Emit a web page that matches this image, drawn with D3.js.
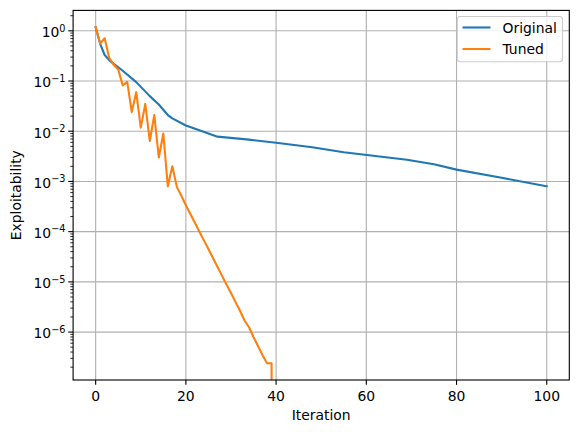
<!DOCTYPE html>
<html>
<head>
<meta charset="utf-8">
<script src="https://cdn.jsdelivr.net/npm/d3@7"></script>
<style>
  html, body { margin: 0; padding: 0; background: #fff; }
  svg { display: block; font-family: "DejaVu Sans", sans-serif; }
</style>
</head>
<body>
<svg id="chart" width="578" height="432"></svg>
<script>
// ---------- data ----------
const originalIter = [0, 1, 2, 3, 4, 6, 9, 12, 14, 16, 17, 20, 23, 27, 34, 40, 48, 55, 62, 69, 75, 80, 90, 100];
const originalVals = [1.18, 0.55, 0.33, 0.26, 0.22, 0.16, 0.095, 0.05, 0.034, 0.021, 0.018, 0.013, 0.0105, 0.0078,
                      0.0068, 0.0059, 0.0048, 0.0038, 0.0032, 0.0027, 0.0022, 0.00172, 0.00118, 0.0008];

const tunedIter = [0,1,2,3,4,5,6,7,8,9,10,11,12,13,14,15,16,17,18,19,20,21,22,23,24,25,26,27,28,29,30,31,32,33,34,35,36,37,38,39,40];
const tunedVals = [1.18, 0.56, 0.71, 0.29, 0.21, 0.17, 0.082, 0.096, 0.024, 0.06, 0.0118, 0.035, 0.0064, 0.021,
                   0.0030, 0.0090, 0.00080, 0.0020, 0.00078, 0.00052, 3.35e-4, 2.24e-4, 1.50e-4, 1.0e-4, 6.7e-5,
                   4.5e-5, 3.0e-5, 2.0e-5, 1.33e-5, 8.9e-6, 6.0e-6, 4.0e-6, 2.66e-6, 1.7e-6, 1.25e-6, 7.9e-7,
                   5.3e-7, 3.45e-7, 2.4e-7, 2.4e-7, 0];

const xTickVals = [0, 20, 40, 60, 80, 100];
const yTickExps = [-6, -5, -4, -3, -2, -1, 0];
const seriesNames = ["Original", "Tuned"];
const seriesColors = ["#1f77b4", "#ff7f0e"];
const xLabel = "Iteration";
const yLabel = "Exploitability";

// ---------- layout ----------
const svg = d3.select("#chart");
const L = 73.1, T = 10.4, W = 496.2, H = 369.6;
const FS = 13.9;
const PT = 100 / 72;

const x = d3.scaleLinear().domain([-5, 105]).range([L, L + W]);

// log domain with 5% margins (in log space) around positive data
const allPos = originalVals.concat(tunedVals).filter(v => v > 0);
const lmin = Math.log10(d3.min(allPos)), lmax = Math.log10(d3.max(allPos));
const pad = 0.05 * (lmax - lmin);
const y = d3.scaleLog().domain([Math.pow(10, lmin - pad), Math.pow(10, lmax + pad)]).range([T + H, T]);
const yPix = v => v > 0 ? y(v) : T + H + 5000;

// clip
svg.append("defs").append("clipPath").attr("id", "clip")
  .append("rect").attr("x", L).attr("y", T).attr("width", W).attr("height", H);

// grid
const g = svg.append("g");
xTickVals.forEach(v => {
  g.append("line").attr("x1", x(v)).attr("x2", x(v)).attr("y1", T).attr("y2", T + H)
    .attr("stroke", "#b0b0b0").attr("stroke-width", 0.8 * PT);
});
yTickExps.forEach(e => {
  const yy = y(Math.pow(10, e));
  g.append("line").attr("x1", L).attr("x2", L + W).attr("y1", yy).attr("y2", yy)
    .attr("stroke", "#b0b0b0").attr("stroke-width", 0.8 * PT);
});

// lines
const lineGen = d3.line().x(d => x(d[0])).y(d => yPix(d[1]));
const series = [
  originalIter.map((it, i) => [it, originalVals[i]]),
  tunedIter.map((it, i) => [it, tunedVals[i]])
];
series.forEach((s, i) => {
  svg.append("path").datum(s).attr("d", lineGen)
    .attr("fill", "none").attr("stroke", seriesColors[i]).attr("stroke-width", 1.5 * PT)
    .attr("stroke-linejoin", "round").attr("stroke-linecap", "square")
    .attr("clip-path", "url(#clip)");
});

// frame
svg.append("rect").attr("x", L).attr("y", T).attr("width", W).attr("height", H)
  .attr("fill", "none").attr("stroke", "#000").attr("stroke-width", 0.8 * PT);

// x ticks
xTickVals.forEach(v => {
  svg.append("line").attr("x1", x(v)).attr("x2", x(v)).attr("y1", T + H).attr("y2", T + H + 3.5 * PT)
    .attr("stroke", "#000").attr("stroke-width", 0.8 * PT);
  svg.append("text").attr("x", x(v)).attr("y", 400.5).attr("text-anchor", "middle")
    .attr("font-size", FS).attr("fill", "#000").text(v);
});

// y major ticks
yTickExps.forEach(e => {
  const yy = y(Math.pow(10, e));
  svg.append("line").attr("x1", L - 3.5 * PT).attr("x2", L).attr("y1", yy).attr("y2", yy)
    .attr("stroke", "#000").attr("stroke-width", 0.8 * PT);
  const t = svg.append("text").attr("x", L - 7.6).attr("y", yy + 6.3).attr("text-anchor", "end")
    .attr("font-size", FS).attr("fill", "#000");
  t.append("tspan").text("10");
  t.append("tspan").attr("font-size", FS * 0.7).attr("dy", -5.6)
    .text(e < 0 ? "\u2212" + Math.abs(e) : String(e));
});

// y minor ticks
const [dmin, dmax] = y.domain();
for (let e = -8; e <= 1; e++) {
  for (let k = 2; k <= 9; k++) {
    const v = k * Math.pow(10, e);
    if (v >= dmin && v <= dmax) {
      const yy = y(v);
      svg.append("line").attr("x1", L - 2 * PT).attr("x2", L).attr("y1", yy).attr("y2", yy)
        .attr("stroke", "#000").attr("stroke-width", 0.6 * PT);
    }
  }
}

// axis labels
svg.append("text").attr("x", L + W / 2).attr("y", 420).attr("text-anchor", "middle")
  .attr("font-size", FS).attr("fill", "#000").text(xLabel);
svg.append("text").attr("transform", `translate(20.7, ${T + H / 2}) rotate(-90)`)
  .attr("text-anchor", "middle").attr("font-size", FS).attr("fill", "#000").text(yLabel);

// legend
const lg = svg.append("g");
const lgX = 457.3, lgY = 16.5, lgW = 105.2, lgH = 45.2;
lg.append("rect").attr("x", lgX).attr("y", lgY).attr("width", lgW).attr("height", lgH)
  .attr("rx", 3).attr("ry", 3).attr("fill", "#fff").attr("fill-opacity", 0.8)
  .attr("stroke", "#cccccc").attr("stroke-width", 0.8 * PT);
seriesNames.forEach((name, i) => {
  const cy = 27.5 + i * 21.5;
  lg.append("line").attr("x1", 462.5).attr("x2", 490.5).attr("y1", cy).attr("y2", cy)
    .attr("stroke", seriesColors[i]).attr("stroke-width", 1.5 * PT);
  lg.append("text").attr("x", 502.5).attr("y", cy + 5).attr("font-size", FS).attr("fill", "#000").text(name);
});
</script>
</body>
</html>
